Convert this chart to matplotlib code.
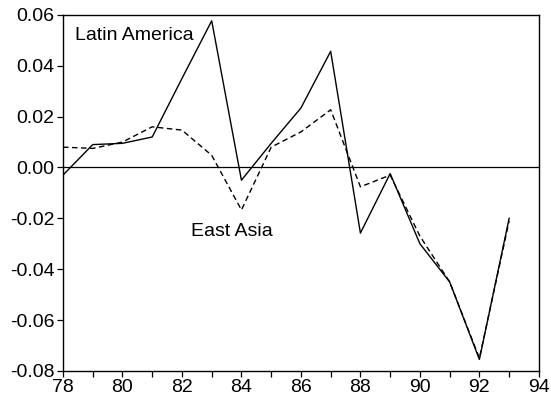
import numpy as np
import matplotlib.pyplot as plt
from matplotlib.ticker import MultipleLocator

plt.rcParams['font.family'] = ['Liberation Sans', 'DejaVu Sans']

# years and the two series
years = [78, 79, 80, 81, 82, 83, 84, 85, 86, 87, 88, 89, 90, 91, 92, 93]
latin_america = [-0.003, 0.009, 0.0095, 0.012, 0.035, 0.0577, -0.005, 0.0095,
                 0.0234, 0.0457, -0.0258, -0.0024, -0.030, -0.045, -0.0755, -0.020]
east_asia = [0.008, 0.0075, 0.010, 0.016, 0.0147, 0.0048, -0.0167, 0.008,
             0.014, 0.0227, -0.0076, -0.003, -0.027, -0.045, -0.075, -0.021]

fig = plt.figure(figsize=(5.51, 4.04), dpi=100)
ax = fig.add_axes([0.1143, 0.082, 0.8637, 0.881])

ax.axhline(0, color='black', lw=0.9)
ax.plot(years, latin_america, color='black', lw=1.0, ls='-')
ax.plot(years, east_asia, color='black', lw=1.0, ls=(0, (4, 2.5)))

ax.text(78.4, 0.052, 'Latin America', fontsize=14, va='center', ha='left')
ax.text(82.3, -0.025, 'East Asia', fontsize=14, va='center', ha='left')

ax.set_xlim(78, 94)
ax.set_ylim(-0.08, 0.06)
ax.xaxis.set_major_locator(MultipleLocator(2))
ax.xaxis.set_minor_locator(MultipleLocator(1))
ax.yaxis.set_major_locator(MultipleLocator(0.02))
ax.yaxis.set_major_formatter(plt.FuncFormatter(lambda v, p: '%.2f' % v))
ax.tick_params(axis='both', which='both', direction='out', labelsize=14,
               color='black', width=0.9, pad=2)
ax.tick_params(axis='both', which='major', length=4)
ax.tick_params(axis='x', which='minor', length=4)
for s in ax.spines.values():
    s.set_linewidth(1.0)

fig.savefig('out.png', dpi=100)
